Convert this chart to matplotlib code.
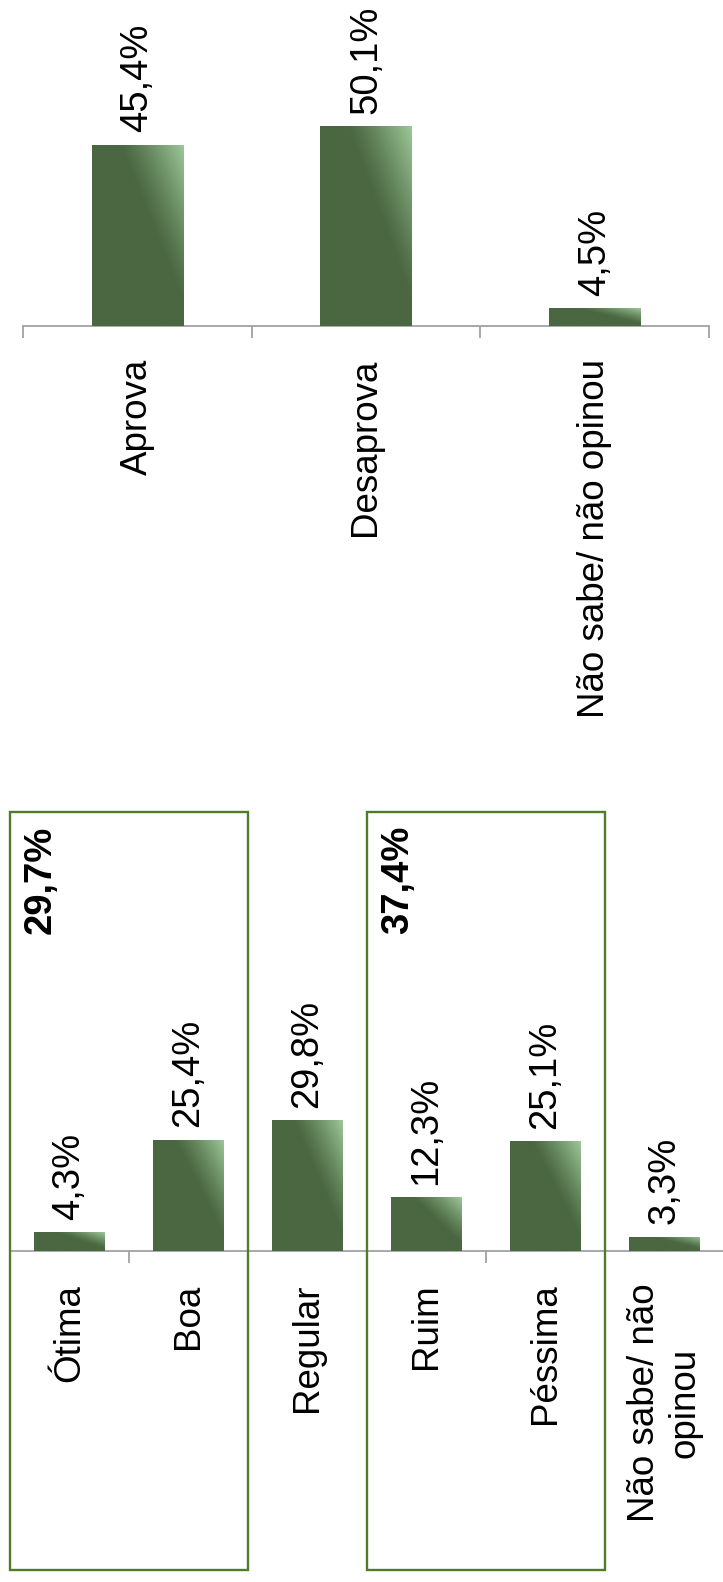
"""
Approval and rating of the administration, two bar charts with rotated text.
"""

import matplotlib
matplotlib.use("Agg")
import matplotlib.pyplot as plt
import numpy as np
from matplotlib.patches import Rectangle
from matplotlib.transforms import blended_transform_factory

DARK = np.array([74, 103, 65]) / 255.0
LIGHT = np.array([156, 199, 152]) / 255.0
AXIS_GRAY = "#9EA2A8"
BOX_GREEN = "#4E7C27"

# Approval chart
approval_labels = ["Aprova", "Desaprova", "Não sabe/ não opinou"]
approval_values = [45.4, 50.1, 4.5]

# Rating chart
rating_labels = ["Ótima", "Boa", "Regular", "Ruim", "Péssima", "Não sabe/ não\nopinou"]
rating_values = [4.3, 25.4, 29.8, 12.3, 25.1, 3.3]

# Grouped totals (Ótima+Boa, Ruim+Péssima)
group_totals = [29.7, 37.4]
group_spans = [(0, 1), (3, 4)]

plt.rcParams["font.family"] = ["Liberation Sans", "DejaVu Sans"]
FS = 26.5
FS_VAL = 27.5

W, H = 723, 1582


def fmt(v):
    return f"{v:.1f}%".replace(".", ",")


def gradient_bars(ax, bars):
    """Paint each bar with a dark-to-light sheen in its upper-right corner"""
    n = 80
    u = np.linspace(0, 1, n)[np.newaxis, :]
    v = np.linspace(0, 1, n)[:, np.newaxis]
    s = u - 0.8 * v
    g = np.clip((s - 0.3) / 0.7, 0, 1) ** 1.2
    img = DARK[None, None, :] + (LIGHT - DARK)[None, None, :] * g[:, :, None]
    for bar in bars:
        x, w, h = bar.get_x(), bar.get_width(), bar.get_height()
        im = ax.imshow(img, extent=[x, x + w, 0, h], origin="upper",
                       aspect="auto", zorder=3, interpolation="bilinear")
        im.set_clip_path(bar)


def bar_panel(ax, labels, values, width, ymax, label_pad):
    n = len(values)
    x = np.arange(n)
    bars = ax.bar(x, values, width=width, color=DARK, zorder=2)
    gradient_bars(ax, bars)
    ax.set_xlim(-0.5, n - 0.5)
    ax.set_ylim(0, ymax)

    for xi, v in zip(x, values):
        ax.annotate(fmt(v), (xi, v), xytext=(0, 9), textcoords="offset points",
                    rotation=90, ha="center", va="bottom", fontsize=FS_VAL)

    for side in ["top", "left", "right"]:
        ax.spines[side].set_visible(False)
    ax.spines["bottom"].set_color(AXIS_GRAY)
    ax.spines["bottom"].set_linewidth(1.3)
    ax.set_yticks([])
    ax.set_xticks(x)
    ax.set_xticklabels(labels, rotation=90, ha="center", va="top", fontsize=FS)
    ax.tick_params(axis="x", which="major", length=0, pad=label_pad)
    ax.set_xticks(np.arange(-0.5, n, 1), minor=True)
    ax.tick_params(axis="x", which="minor", length=8.6, width=1.3,
                   color=AXIS_GRAY, direction="out")
    ax.patch.set_visible(False)


fig = plt.figure(figsize=(W / 100, H / 100), dpi=100)

# top chart: axis from x=23 to 709, baseline at y=326
ax1 = fig.add_axes([23 / W, (H - 326) / H, 686 / W, 326 / H])
bar_panel(ax1, approval_labels, approval_values, 0.40, 326 / 3.99, 23.5)

# bottom chart: axis from x=10 to 724, baseline at y=1251
ax2 = fig.add_axes([10 / W, (H - 1251) / H, 714 / W, 451 / H])
bar_panel(ax2, rating_labels, rating_values, 0.59, 451 / 4.38, 23.5)

# boxes around the grouped categories, with their totals
trans = blended_transform_factory(ax2.transData, fig.transFigure)
box_top = (H - 812) / H
box_bottom = (H - 1570) / H
for (a, b), total in zip(group_spans, group_totals):
    rect = Rectangle((a - 0.5, box_bottom), b - a + 1, box_top - box_bottom,
                     transform=trans, fill=False, edgecolor=BOX_GREEN,
                     linewidth=1.7, clip_on=False, zorder=1)
    fig.add_artist(rect)
    ax2.text(a - 0.5 + 0.26, (H - 826) / H, fmt(total), transform=trans,
             rotation=90, ha="center", va="top", fontsize=FS_VAL, fontweight="bold")

fig.savefig("out.png", dpi=100)
